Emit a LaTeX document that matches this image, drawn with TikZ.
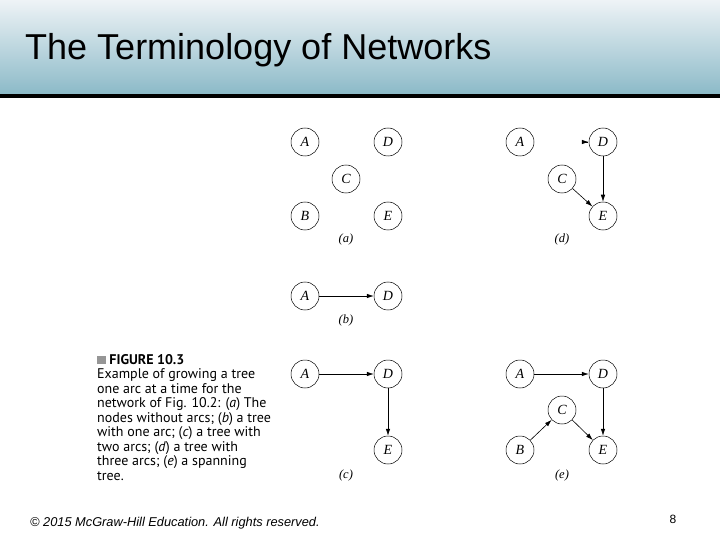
\documentclass[tikz,border=0pt]{standalone}
\usepackage{fontspec}
\setmainfont{Liberation Sans}
\newfontfamily\figfont{Liberation Serif}
\newfontfamily\capfont{PT Sans}
\usetikzlibrary{arrows.meta}

\definecolor{bartop}{RGB}{238,243,246}
\definecolor{barbot}{RGB}{140,186,200}
\definecolor{bulletgray}{RGB}{150,150,150}

\tikzset{
  vtx/.style={circle, draw, line width=0.5pt, minimum size=28pt, inner sep=0pt,
    font=\figfont\itshape\fontsize{14}{14}\selectfont},
  arc/.style={line width=0.6pt, -{Latex[length=7pt,width=4.5pt]}},
  sublbl/.style={font=\figfont\itshape\fontsize{12.5}{12.5}\selectfont},
}

\begin{document}
\begin{tikzpicture}[x=1pt,y=-1pt] % coordenadas en pixeles

    % Barra del titulo
    \useasboundingbox (0,0) rectangle (720,540);
    \shade[top color=bartop, bottom color=barbot] (0,0) rectangle (720,94);
    \draw[line width=3.5pt] (0,96) -- (720,96);
    \node[anchor=base west, inner sep=0, font=\fontsize{36}{36}\selectfont] (title) at (25,60) {The Terminology of Networks};

    % Subfigura (a): nodos sin arcos
    \begin{scope}[shift={(305,142)}]
        \node[vtx] (aA) at (0,0) {A};
        \node[vtx] (aD) at (83,0) {D};
        \node[vtx] (aC) at (41,37) {C};
        \node[vtx] (aB) at (0,74) {B};
        \node[vtx] (aE) at (83,74) {E};
        \node[sublbl] (alab) at (41,97) {(a)};
    \end{scope}

    % Subfigura (b): un arco
    \begin{scope}[shift={(305,296)}]
        \node[vtx] (bA) at (0,0) {A};
        \node[vtx] (bD) at (83,0) {D};
        \node[sublbl] (blab) at (41,24) {(b)};
        \draw[arc] (bA) -- (bD);
    \end{scope}

    % Subfigura (c): dos arcos
    \begin{scope}[shift={(305,374)}]
        \node[vtx] (cA) at (0,0) {A};
        \node[vtx] (cD) at (83,0) {D};
        \node[vtx] (cE) at (83,76) {E};
        \node[sublbl] (clab) at (41,101) {(c)};
        \draw[arc] (cA) -- (cD);
        \draw[arc] (cD) -- (cE);
    \end{scope}

    % Subfigura (d): tres arcos
    \begin{scope}[shift={(520,142)}]
        \node[vtx] (dA) at (0,0) {A};
        \node[vtx] (dD) at (83,0) {D};
        \node[vtx] (dC) at (42,37) {C};
        \node[vtx] (dE) at (83,74) {E};
        \node[sublbl] (dlab) at (42,97) {(d)};
        \coordinate (dstub) at ([xshift=-8pt]dD.west);
        \draw[arc, shorten <=7pt] (dstub) -- (dD.west);
        \draw[arc] (dD) -- (dE);
        \draw[arc] (dC) -- (dE);
    \end{scope}

    % Subfigura (e): arbol de expansion
    \begin{scope}[shift={(520,374)}]
        \node[vtx] (eA) at (0,0) {A};
        \node[vtx] (eD) at (83,0) {D};
        \node[vtx] (eC) at (42,36) {C};
        \node[vtx] (eB) at (0,76) {B};
        \node[vtx] (eE) at (83,76) {E};
        \node[sublbl] (elab) at (42,101) {(e)};
        \draw[arc] (eA) -- (eD);
        \draw[arc] (eD) -- (eE);
        \draw[arc] (eC) -- (eE);
        \draw[arc] (eB) -- (eC);
    \end{scope}

    % Pie de figura
    \node[anchor=north west, inner sep=0, align=left, font=\capfont\fontsize{14}{14.5}\selectfont] (caption) at (97,354)
        {{\color{bulletgray}\rule{8.5pt}{8.5pt}}\ \textbf{FIGURE 10.3}\\
         Example of growing a tree\\
         one arc at a time for the\\
         network of Fig. 10.2: (\textit{a}) The\\
         nodes without arcs; (\textit{b}) a tree\\
         with one arc; (\textit{c}) a tree with\\
         two arcs; (\textit{d}) a tree with\\
         three arcs; (\textit{e}) a spanning\\
         tree.};

    % Pie de pagina
    \node[anchor=base west, inner sep=0, font=\itshape\fontsize{12.8}{13}\selectfont] (footer) at (30,526)
        {© 2015 McGraw-Hill Education. All rights reserved.};
    \node[anchor=base, inner sep=0, font=\fontsize{12}{12}\selectfont] (pagenum) at (673,523) {8};

\end{tikzpicture}
\end{document}
